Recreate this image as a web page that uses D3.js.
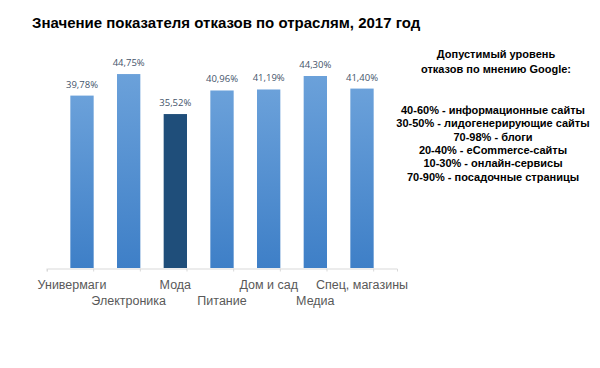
<!DOCTYPE html>
<html><head><meta charset="utf-8">
<script src="https://cdn.jsdelivr.net/npm/d3@7"></script>
<style>html,body{margin:0;padding:0;background:#fff;}svg{display:block;}</style>
</head><body>
<svg id="c" width="600" height="368"></svg>
<script>
const categories = ["Универмаги","Электроника","Мода","Питание","Дом и сад","Медиа","Спец, магазины"];
const values = [39.78, 44.75, 35.52, 40.96, 41.19, 44.30, 41.40];
const highlighted = ["Мода"];
const valueLabels = ["39,78%","44,75%","35,52%","40,96%","41,19%","44,30%","41,40%"];
const title = "Значение показателя отказов по отраслям, 2017 год";
const noteHead = ["Допустимый уровень","отказов по мнению Google:"];
const noteLines = ["40-60% - информационные сайты","30-50% - лидогенерирующие сайты","70-98% - блоги","20-40% - eCommerce-сайты","10-30% - онлайн-сервисы","70-90% - посадочные страницы"];

const svg = d3.select("#c");
const defs = svg.append("defs");
const g1 = defs.append("linearGradient").attr("id","gb").attr("x1",0).attr("y1",0).attr("x2",0).attr("y2",1);
g1.append("stop").attr("offset","0%").attr("stop-color","#6ba1da");
g1.append("stop").attr("offset","100%").attr("stop-color","#3e7fc7");

const x = d3.scaleBand().domain(categories).range([47,397]).padding(0.5);
const y = d3.scaleLinear().domain([0,50]).range([268,51.3]);

svg.append("text").attr("x",32).attr("y",28).attr("font-family","Arial, 'Liberation Sans', sans-serif")
  .attr("font-weight","bold").attr("font-size",15).attr("fill","#000").text(title);

// axis
const ax = svg.append("g").attr("transform","translate(0,268.5)")
  .call(d3.axisBottom(x).tickSize(3).tickFormat(""));
ax.select(".domain").attr("stroke","#d9d9d9");
ax.selectAll(".tick line").remove();
ax.selectAll(".tickb").data(d3.range(categories.length+1)).enter().append("line")
  .attr("x1",i=>x.range()[0]+i*x.step()).attr("x2",i=>x.range()[0]+i*x.step())
  .attr("y1",0).attr("y2",3).attr("stroke","#d9d9d9");

svg.selectAll("rect.bar").data(categories).enter().append("rect").attr("class","bar")
  .attr("x",d=>x(d)).attr("width",x.bandwidth())
  .attr("y",(d,i)=>y(values[i])).attr("height",(d,i)=>y(0)-y(values[i]))
  .attr("fill",d=>highlighted.includes(d)?"#1f4e7a":"url(#gb)");

svg.selectAll("text.vl").data(categories).enter().append("text").attr("class","vl")
  .attr("x",d=>x(d)+x.bandwidth()/2).attr("y",(d,i)=>y(values[i])-8)
  .attr("text-anchor","middle").attr("font-family","'Open Sans', Arial, sans-serif")
  .attr("font-size",9.5).attr("fill","#44546a").text((d,i)=>valueLabels[i]);

svg.selectAll("text.cl").data(categories).enter().append("text").attr("class","cl")
  .attr("x",(d,i)=>x(d)+x.bandwidth()/2+(i===0?-10:0)).attr("y",(d,i)=>i%2===0?289:305)
  .attr("text-anchor","middle").attr("font-family","Arial, 'Liberation Sans', sans-serif")
  .attr("font-size",12.5).attr("fill","#595959").text(d=>d);

const nt = svg.append("g").attr("font-family","Arial, 'Liberation Sans', sans-serif")
  .attr("font-weight","bold").attr("font-size",11).attr("fill","#000").attr("text-anchor","middle");
nt.selectAll("text.h").data(noteHead).enter().append("text").attr("class","h")
  .attr("x",496).attr("y",(d,i)=>58+i*15).text(d=>d);
nt.selectAll("text.n").data(noteLines).enter().append("text").attr("class","n")
  .attr("x",493).attr("y",(d,i)=>114+i*13.3).text(d=>d);
</script>
</body></html>
